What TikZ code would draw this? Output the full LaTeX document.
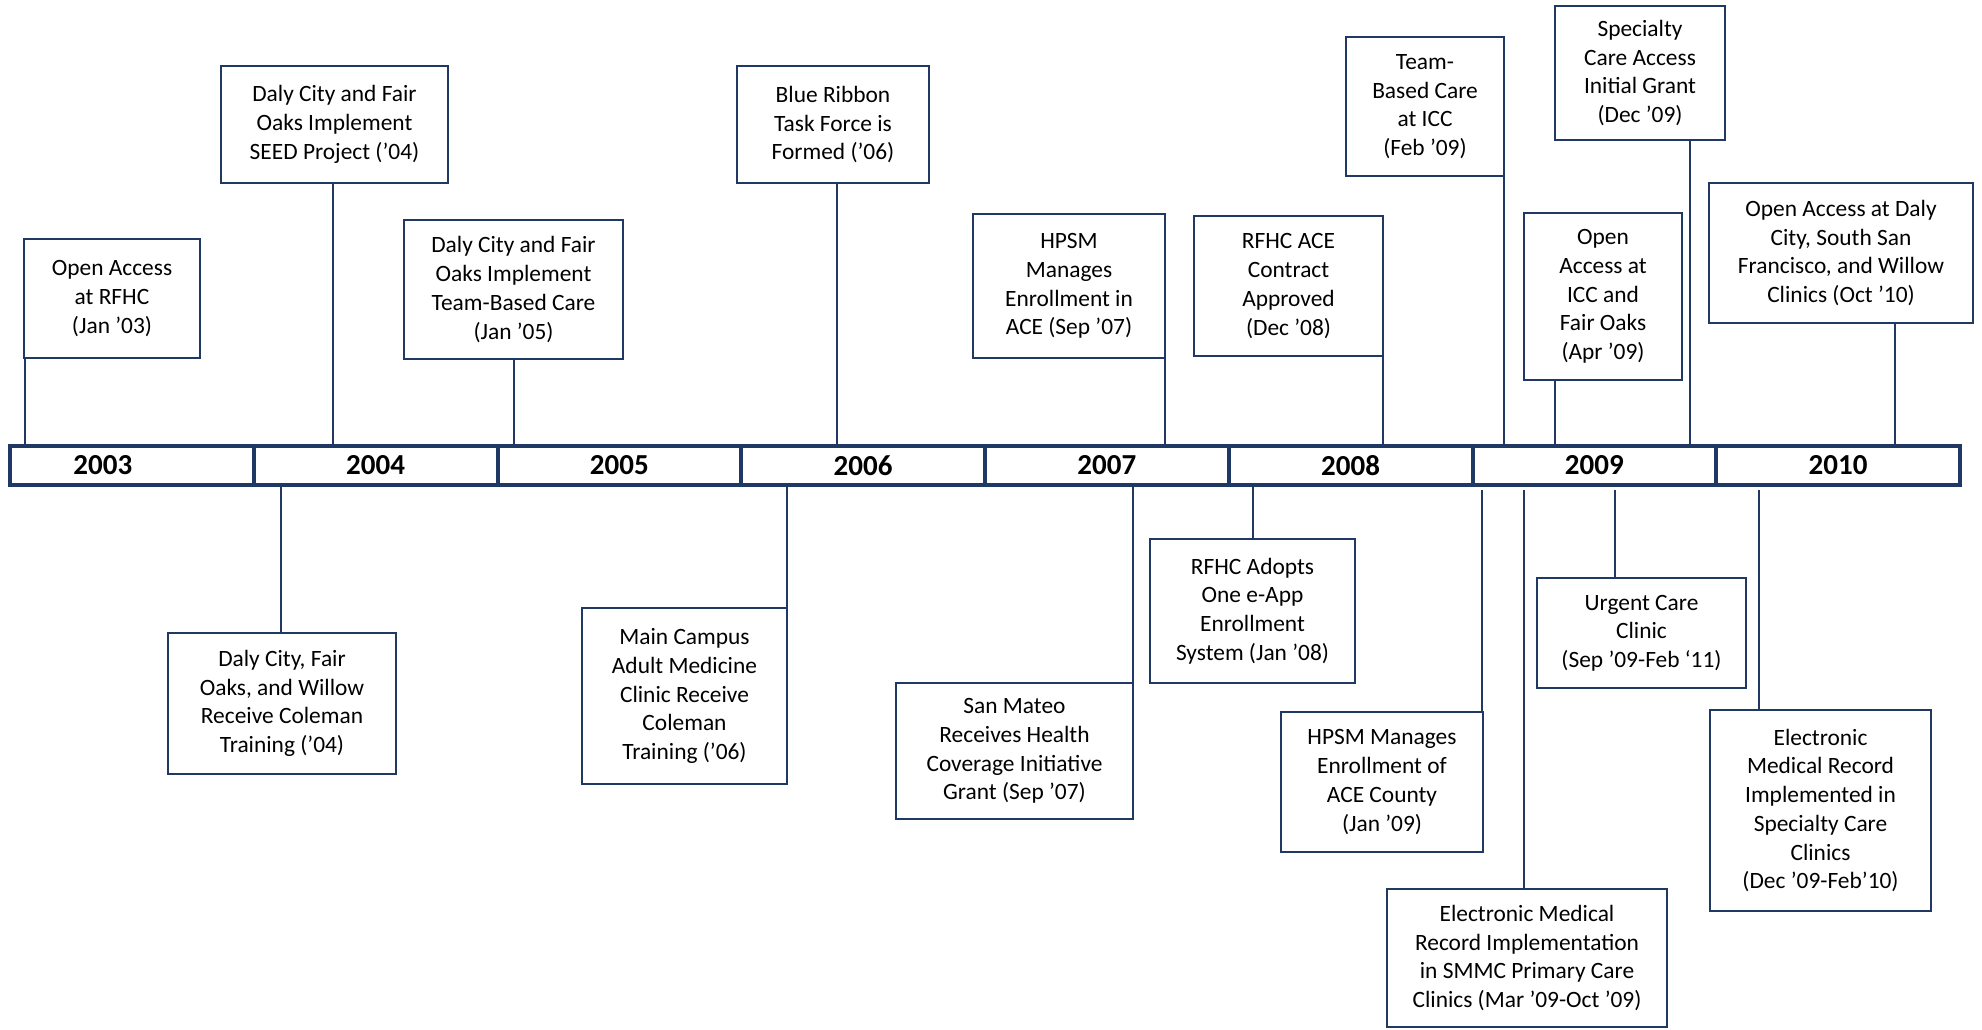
\documentclass[tikz,border=0pt]{standalone}
\usepackage{fontspec}
\setmainfont{Carlito}
\definecolor{navy}{HTML}{1F3864}
\begin{document}
\begin{tikzpicture}[x=0.5pt,y=-0.5pt,
    yearbox/.style={draw=navy,line width=2pt,minimum width=121.875pt,minimum height=19.5pt,
      inner sep=0pt,font=\fontsize{14.5}{17}\selectfont\bfseries},
    event/.style={draw=navy,line width=1.4pt,align=center,inner sep=0pt,
      font=\fontsize{11.7}{14.35}\selectfont},
    boxsize/.style 2 args={minimum width=#1*0.5pt,minimum height=#2*0.5pt},
    link/.style={draw=navy,line width=1.2pt}]
  \useasboundingbox (0,0) rectangle (1982,1029);
  % the years
  \node[yearbox] (y2003) at (131.875,465.5) {2003\kern29pt};
  \foreach \yr [count=\i] in {2004,2005,2006,2007,2008,2009,2010}
    \node[yearbox] (y\yr) at ({131.875+243.75*\i},465.5) {\yr};
  % events above the line
  \node[event,boxsize={176}{119}] (e1) at (112,298.5) {Open Access\\at RFHC\\(Jan ’03)};
  \node[event,boxsize={227}{117}] (e2) at (334.5,124.5) {Daly City and Fair\\Oaks Implement\\SEED Project (’04)};
  \node[event,boxsize={219}{139}] (e3) at (513.5,289.5) {Daly City and Fair\\Oaks Implement\\Team-Based Care\\(Jan ’05)};
  \node[event,boxsize={192}{117}] (e4) at (833,124.5) {Blue Ribbon\\Task Force is\\Formed (’06)};
  \node[event,boxsize={192}{144}] (e5) at (1069,286) {HPSM\\Manages\\Enrollment in\\ACE (Sep ’07)};
  \node[event,boxsize={189}{140}] (e6) at (1288.5,286) {RFHC ACE\\Contract\\Approved\\(Dec ’08)};
  \node[event,boxsize={158}{139}] (e7) at (1425,106.5) {Team-\\Based Care\\at ICC\\(Feb ’09)};
  \node[event,boxsize={170}{134}] (e8) at (1640,73) {Specialty\\Care Access\\Initial Grant\\(Dec ’09)};
  \node[event,boxsize={158}{167}] (e9) at (1603,296.5) {Open\\Access at\\ICC and\\Fair Oaks\\(Apr ’09)};
  \node[event,boxsize={264}{140}] (e10) at (1841,253) {Open Access at Daly\\City, South San\\Francisco, and Willow\\Clinics (Oct ’10)};
  % events below the line
  \node[event,boxsize={228}{141}] (e11) at (282,703.5) {Daly City, Fair\\Oaks, and Willow\\Receive Coleman\\Training (’04)};
  \node[event,boxsize={205}{176}] (e12) at (684.5,696) {Main Campus\\Adult Medicine\\Clinic Receive\\Coleman\\Training (’06)};
  \node[event,boxsize={237}{136}] (e13) at (1014.5,751) {San Mateo\\Receives Health\\Coverage Initiative\\Grant (Sep ’07)};
  \node[event,boxsize={205}{144}] (e14) at (1252.5,611) {RFHC Adopts\\One e-App\\Enrollment\\System (Jan ’08)};
  \node[event,boxsize={202}{140}] (e15) at (1382,782) {HPSM Manages\\Enrollment of\\ACE County\\(Jan ’09)};
  \node[event,boxsize={280}{138}] (e16) at (1527,958) {Electronic Medical\\Record Implementation\\in SMMC Primary Care\\Clinics (Mar ’09-Oct ’09)};
  \node[event,boxsize={209}{110}] (e17) at (1641.5,633) {Urgent Care\\Clinic\\(Sep ’09-Feb ‘11)};
  \node[event,boxsize={221}{201}] (e18) at (1820.5,810.5) {Electronic\\Medical Record\\Implemented in\\Specialty Care\\Clinics\\(Dec ’09-Feb’10)};
  % ticks
  \foreach \n/\x in {1/25,2/333,3/514,4/837,5/1165,6/1383,7/1504,8/1690,9/1555,10/1895} {
    \coordinate (d\n) at (\x,445);
    \draw[link] (d\n |- e\n.south) -- (d\n);
  }
  \foreach \n/\x/\y in {11/281/486,12/787/486,13/1133/486,14/1253/486,15/1482/490,16/1524/490,17/1615/490,18/1759/490} {
    \coordinate (d\n) at (\x,\y);
    \draw[link] (d\n) -- (d\n |- e\n.north);
  }
\end{tikzpicture}
\end{document}
